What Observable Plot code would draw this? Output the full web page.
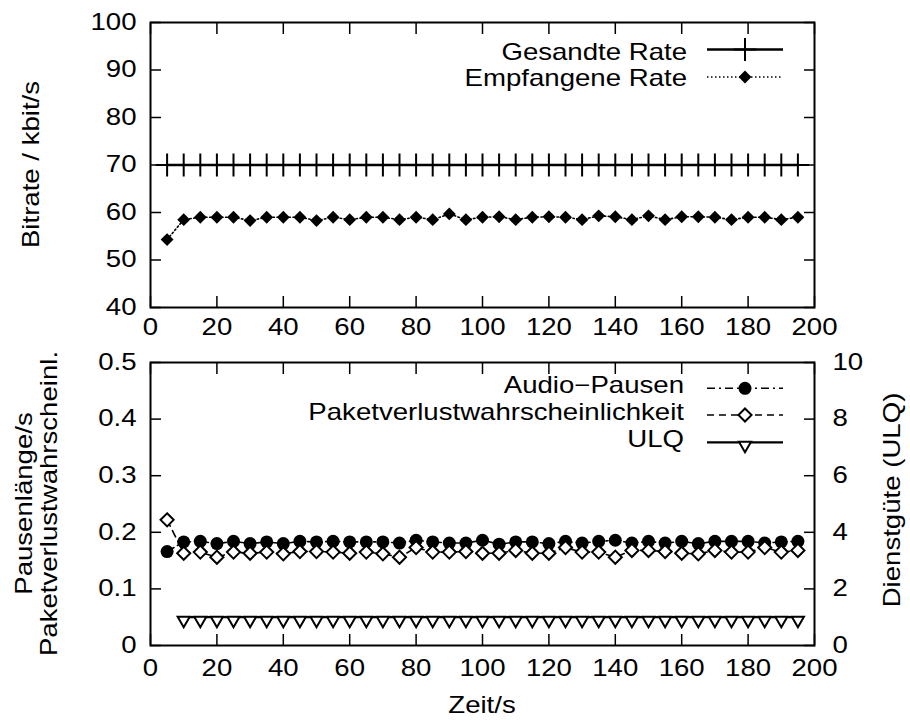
<!DOCTYPE html>
<html><head><meta charset="utf-8">
<script src="https://cdn.jsdelivr.net/npm/d3@7"></script>
<script src="https://cdn.jsdelivr.net/npm/@observablehq/plot@0.6"></script>
<style>
html,body{margin:0;padding:0;background:#fff;}
#chart{width:910px;height:726px;overflow:hidden;}
#chart svg{display:block;}
</style></head><body><div id="chart"></div>
<script>
// ---- data ----
const zeit = [5,10,15,20,25,30,35,40,45,50,55,60,65,70,75,80,85,90,95,100,105,110,115,120,125,130,135,140,145,150,155,160,165,170,175,180,185,190,195];
const gesandteRate = [70,70,70,70,70,70,70,70,70,70,70,70,70,70,70,70,70,70,70,70,70,70,70,70,70,70,70,70,70,70,70,70,70,70,70,70,70,70,70];
const empfangeneRate = [54.3,58.5,59.0,59.0,59.0,58.3,59.0,59.0,59.0,58.3,59.0,58.5,59.0,59.0,58.5,59.0,58.5,59.7,58.5,59.0,59.1,58.5,59.0,59.1,59.0,58.5,59.3,59.1,58.5,59.3,58.5,59.1,59.1,59.0,58.5,59.0,59.0,58.5,59.0];
const audioPausen = [0.166,0.183,0.184,0.180,0.184,0.180,0.183,0.180,0.184,0.183,0.184,0.183,0.183,0.183,0.181,0.186,0.183,0.181,0.181,0.186,0.179,0.183,0.183,0.180,0.184,0.181,0.184,0.186,0.181,0.184,0.181,0.184,0.180,0.184,0.184,0.184,0.181,0.183,0.184];
const paketverlust = [0.222,0.163,0.165,0.156,0.165,0.163,0.165,0.162,0.166,0.166,0.165,0.163,0.165,0.162,0.156,0.173,0.165,0.165,0.166,0.163,0.163,0.168,0.163,0.163,0.173,0.165,0.165,0.156,0.168,0.168,0.166,0.163,0.162,0.168,0.165,0.165,0.173,0.165,0.168];
const zeitULQ = [10,15,20,25,30,35,40,45,50,55,60,65,70,75,80,85,90,95,100,105,110,115,120,125,130,135,140,145,150,155,160,165,170,175,180,185,190,195];
const ulq = [1,1,1,1,1,1,1,1,1,1,1,1,1,1,1,1,1,1,1,1,1,1,1,1,1,1,1,1,1,1,1,1,1,1,1,1,1,1];
const xTicks = [0,20,40,60,80,100,120,140,160,180,200];
const yTicksTop = [40,50,60,70,80,90,100];
const yTicksLeft = [0,0.1,0.2,0.3,0.4,0.5];
const yTicksRight = [0,2,4,6,8,10];
const ulqMax = 10, leftMax = 0.5;

const FONT = "'Liberation Sans', Arial, Helvetica, sans-serif";
const FS = 23;
const STRETCH = 1.2;

const topRows = zeit.map((z, i) => ({z, sent: gesandteRate[i], recv: empfangeneRate[i]}));
const botRows = zeit.map((z, i) => ({z, audio: audioPausen[i], loss: paketverlust[i]}));
const ulqRows = zeitULQ.map((z, i) => ({z, q: ulq[i] * leftMax / ulqMax}));

const common = {
  width: 910, marginLeft: 150, marginRight: 96,
  style: {fontFamily: FONT, fontSize: FS + "px", color: "#000", background: "#fff", overflow: "visible"},
};
const tk = {tickSize: -11, strokeWidth: 1.5, label: null};

const topPlot = Plot.plot({
  ...common,
  height: 340, marginTop: 22, marginBottom: 33,
  x: {domain: [0, 200], axis: null},
  y: {domain: [40, 100], axis: null},
  marks: [
    Plot.axisX(xTicks, {...tk, anchor: "bottom", tickPadding: 22}),
    Plot.axisX(xTicks, {...tk, anchor: "top", tickFormat: () => ""}),
    Plot.axisY(yTicksTop, {...tk, anchor: "left", tickPadding: 25}),
    Plot.axisY(yTicksTop, {...tk, anchor: "right", tickFormat: () => ""}),
    Plot.line(topRows, {x: "z", y: "sent", stroke: "#000", strokeWidth: 2.5}),
    Plot.dot(topRows, {x: "z", y: "sent", symbol: "plus", r: 7.4, stroke: "#000", strokeWidth: 2}),
    Plot.line(topRows, {x: "z", y: "recv", stroke: "#000", strokeWidth: 1.6, strokeDasharray: "1.5,2.5"}),
    Plot.dot(topRows, {x: "z", y: "recv", symbol: "diamond2", r: 5.8, fill: "#000", stroke: "none"}),
    Plot.frame({stroke: "#000", strokeWidth: 2})
  ]
});

const botPlot = Plot.plot({
  ...common,
  height: 386, marginTop: 22, marginBottom: 81,
  x: {domain: [0, 200], axis: null},
  y: {domain: [0, leftMax], axis: null},
  marks: [
    Plot.axisX(xTicks, {...tk, anchor: "bottom", tickPadding: 25}),
    Plot.axisX(xTicks, {...tk, anchor: "top", tickFormat: () => ""}),
    Plot.axisY(yTicksLeft, {...tk, anchor: "left", tickPadding: 25, tickFormat: d => d === 0 ? "0" : d3.format(".1f")(d)}),
    Plot.axisY(yTicksRight.map(v => v * leftMax / ulqMax), {...tk, anchor: "right", tickPadding: 29, tickFormat: d => String(Math.round(d * ulqMax / leftMax))}),
    Plot.line(botRows, {x: "z", y: "audio", stroke: "#000", strokeWidth: 1.6, strokeDasharray: "8,4,2,4"}),
    Plot.dot(botRows, {x: "z", y: "audio", symbol: "circle", r: 6.5, fill: "#000", stroke: "none"}),
    Plot.line(botRows, {x: "z", y: "loss", stroke: "#000", strokeWidth: 1.6, strokeDasharray: "7,5"}),
    Plot.dot(botRows, {x: "z", y: "loss", symbol: "diamond2", r: 5.9, fill: "#fff", stroke: "#000", strokeWidth: 2}),
    Plot.line(ulqRows, {x: "z", y: "q", stroke: "#000", strokeWidth: 2.2}),
    Plot.dot(ulqRows, {x: "z", y: "q", symbol: "triangle", rotate: 180, r: 4.5, dy: 3, fill: "#fff", stroke: "#000", strokeWidth: 2}),
    Plot.frame({stroke: "#000", strokeWidth: 2})
  ]
});

const chart = document.getElementById("chart");
chart.appendChild(topPlot);
chart.appendChild(botPlot);

function txt(svg, s, x, y, anchor, rotate) {
  return d3.select(svg).append("text")
    .attr("font-family", FONT).attr("font-size", FS).attr("fill", "#000")
    .attr("text-anchor", anchor)
    .attr("transform", `translate(${x},${y})${rotate ? " rotate(" + rotate + ")" : ""}`)
    .text(s);
}

function legend(svg, items, textRight, x1, x2) {
  const g = d3.select(svg).append("g");
  const xm = (x1 + x2) / 2;
  items.forEach(it => {
    txt(svg, it.label, textRight, it.base, "end");
    g.append("line").attr("x1", x1).attr("x2", x2).attr("y1", it.y).attr("y2", it.y)
      .attr("stroke", "#000").attr("stroke-width", it.lw).attr("stroke-dasharray", it.dash || null);
    const p = d3.symbol(it.symbol, Math.PI * it.r * it.r)();
    g.append("path").attr("d", p)
      .attr("transform", `translate(${xm},${it.y + (it.dy || 0)})${it.rot ? " rotate(" + it.rot + ")" : ""}`)
      .attr("fill", it.fill).attr("stroke", it.stroke).attr("stroke-width", it.sw);
  });
}

// top plot titles & legend
txt(topPlot, "Bitrate / kbit/s", 39, 164.5, "middle", -90);
legend(topPlot, [
  {label: "Gesandte Rate", base: 59.5, y: 49.5, lw: 2.5, symbol: d3.symbolPlus, r: 7.4, fill: "none", stroke: "#000", sw: 2},
  {label: "Empfangene Rate", base: 86, y: 77, lw: 1.6, dash: "1.5,2.5", symbol: d3.symbolDiamond2, r: 5.8, fill: "#000", stroke: "none", sw: 0}
], 687, 707, 783);

// bottom plot titles & legend (bottom svg starts at y=340)
txt(botPlot, "Pausenlänge/s", 32, 163.5, "middle", -90);
txt(botPlot, "Paketverlustwahrscheinl.", 57, 163.5, "middle", -90);
txt(botPlot, "Dienstgüte (ULQ)", 900, 160, "middle", -90);
txt(botPlot, "Zeit/s", 482, 373, "middle");
legend(botPlot, [
  {label: "Audio\u2212Pausen", base: 53.3, y: 48.3, lw: 1.6, dash: "8,4,2,4", symbol: d3.symbolCircle, r: 6.5, fill: "#000", stroke: "none", sw: 0},
  {label: "Paketverlustwahrscheinlichkeit", base: 80, y: 75, lw: 1.6, dash: "7,5", symbol: d3.symbolDiamond2, r: 5.9, fill: "#fff", stroke: "#000", sw: 2},
  {label: "ULQ", base: 107.3, y: 102.3, lw: 2.2, symbol: d3.symbolTriangle, rot: 180, dy: 3, r: 4.5, fill: "#fff", stroke: "#000", sw: 2}
], 684, 707, 783);

// widen glyphs horizontally (around each text's anchor) to mimic the wide Helvetica of the original
[topPlot, botPlot].forEach(svg => {
  svg.querySelectorAll("text").forEach(t => {
    let tr = t.getAttribute("transform") || "";
    const xa = t.getAttribute("x");
    if (xa !== null && !isNaN(parseFloat(xa)) && parseFloat(xa) !== 0) {
      tr += ` translate(${parseFloat(xa)},0)`;
      t.setAttribute("x", 0);
    }
    t.setAttribute("transform", tr + ` scale(${STRETCH},1)`);
  });
});
</script>
</body></html>
